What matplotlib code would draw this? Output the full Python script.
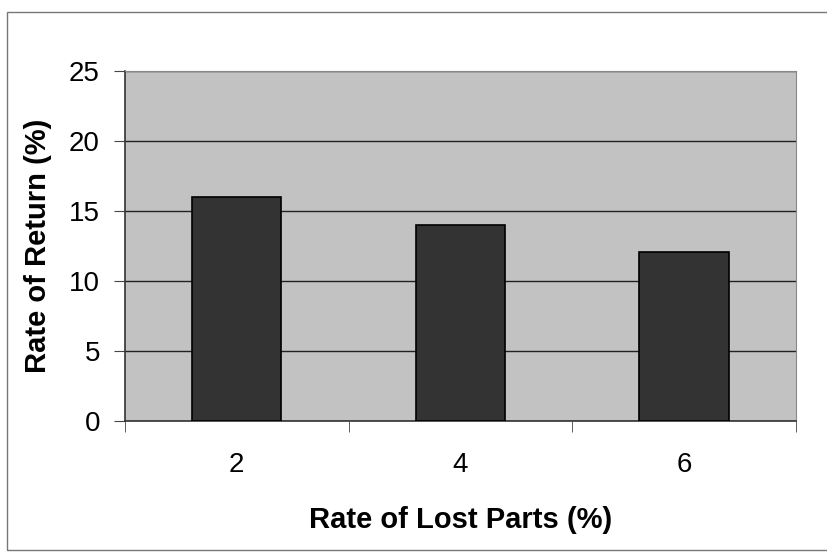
import numpy as np
import matplotlib.pyplot as plt
from matplotlib.patches import Rectangle

lost_parts = ['2', '4', '6']
returns = [16.0, 14.0, 12.1]

plt.rcParams['font.family'] = ['Liberation Sans', 'DejaVu Sans']

fig = plt.figure(figsize=(8.27, 5.52), dpi=100)
ax = fig.add_axes([0.151, 0.237, 0.8115, 0.634])

x = np.arange(len(lost_parts))
ax.set_facecolor('#c2c2c2')
ax.bar(x, returns, width=0.4, color='#333333', edgecolor='black', linewidth=1.2, zorder=3)

ax.set_xlim(-0.5, len(lost_parts) - 0.5)
ax.set_ylim(0, 25)
ax.set_yticks(range(0, 26, 5))
ax.yaxis.grid(True, color='#222222', linewidth=1.0, zorder=1)
ax.set_axisbelow(True)

# category labels centred, ticks at the boundaries
ax.set_xticks(x)
ax.set_xticklabels(lost_parts)
ax.set_xticks(np.arange(-0.5, len(lost_parts)), minor=True)
ax.tick_params(axis='x', which='major', length=0, labelsize=20, pad=22)
ax.tick_params(axis='x', which='minor', length=8, direction='out', color='#444444')
ax.tick_params(axis='y', length=8, direction='out', labelsize=20, pad=10, color='#444444')

for side in ['top', 'right']:
    ax.spines[side].set_color('#888888')
    ax.spines[side].set_linewidth(0.8)
for side in ['left', 'bottom']:
    ax.spines[side].set_color('#333333')
    ax.spines[side].set_linewidth(1.2)

ax.set_xlabel('Rate of Lost Parts (%)', fontsize=21, fontweight='bold', labelpad=20)
ax.set_ylabel('Rate of Return (%)', fontsize=21, fontweight='bold', labelpad=12)

# outer chart border (runs off the right edge)
fig.patches.append(Rectangle((0.0085, 0.0036), 1.0, 0.974, transform=fig.transFigure,
                             fill=False, edgecolor='#777777', linewidth=1.0))

fig.savefig('out.png', dpi=100)
